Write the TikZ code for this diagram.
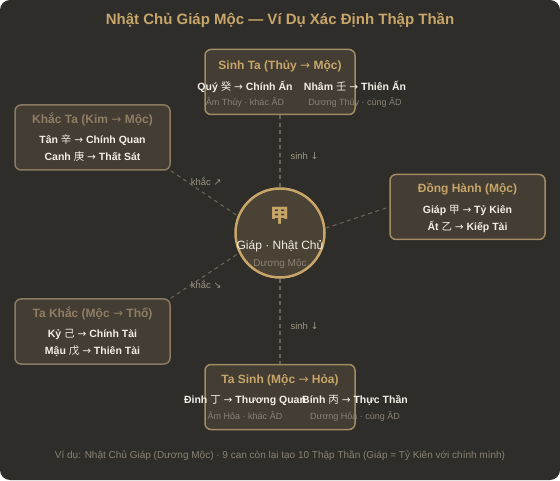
\documentclass[tikz,border=0pt]{standalone}
\usepackage{fontspec}
\setmainfont{Liberation Sans}
\newfontfamily\cjk{Noto Sans CJK SC}
\newfontfamily\arrowfont{DejaVu Sans}
\usepackage{xcolor}
\usetikzlibrary{positioning}
\definecolor{PanelBg}{HTML}{2E2D2A}
\definecolor{BoxFill}{HTML}{433D33}
\definecolor{BoxEdge}{HTML}{A38C63}
\definecolor{BoxEdgeDim}{HTML}{8A7A61}
\definecolor{Gold}{HTML}{C8A66A}
\definecolor{GoldDim}{HTML}{8F7E64}
\definecolor{Ink}{HTML}{F2EEE6}
\definecolor{Muted}{HTML}{8A8275}
\definecolor{LinkGray}{HTML}{6A6356}
\definecolor{LinkText}{HTML}{9C9384}
\definecolor{HubFill}{HTML}{4A4234}

\newcommand{\han}[1]{{\cjk\mdseries #1}}
\newcommand{\ra}{{\arrowfont\mdseries →}}

\begin{document}
\begin{tikzpicture}[x=1pt, y=1pt,
    box/.style={draw=BoxEdge, fill=BoxFill, rounded corners=6pt, line width=1.5pt,
                minimum width=150pt, minimum height=65pt, inner sep=0pt},
    dimbox/.style={box, draw=BoxEdgeDim, minimum width=155pt},
    hub/.style={circle, draw=Gold, fill=HubFill, line width=2.5pt,
                minimum size=89pt, inner sep=0pt},
    txt/.style={inner sep=0pt, text height=0.72em, text depth=0.22em},
    headline/.style={txt, text=Gold, font=\bfseries\fontsize{15}{17}\selectfont},
    boxtitle/.style={txt, text=Gold, font=\bfseries\fontsize{12}{14}\selectfont},
    dimtitle/.style={boxtitle, text=GoldDim},
    entry/.style={txt, text=Ink, font=\bfseries\fontsize{10.5}{12}\selectfont},
    subnote/.style={txt, text=Muted, font=\fontsize{9}{11}\selectfont},
    link/.style={draw=LinkGray, line width=1.1pt, dash pattern=on 4pt off 3.5pt},
    linklabel/.style={txt, text=LinkText, font=\fontsize{9.5}{11}\selectfont},
    footnote/.style={txt, text=Muted, font=\fontsize{10}{12}\selectfont}]
% panel
\useasboundingbox (0,0) rectangle (560,480);
\fill[PanelBg, rounded corners=10pt] (0,0) rectangle (560,480);
\node[headline] (title) at (280,458) {Nhật Chủ Giáp Mộc — Ví Dụ Xác Định Thập Thần};

% day master
\node[hub] (hub) at (280,247) {};
\node[txt, text=Gold, font=\bfseries\fontsize{19}{21}\selectfont, yshift=13pt] (jia) at (hub.center) {{\cjk\bfseries 甲}};
\node[txt, text=Ink, font=\fontsize{12}{14}\selectfont, yshift=-14pt] (hubname) at (hub.center) {Giáp · Nhật Chủ};
\node[txt, text=Muted, font=\fontsize{10}{12}\selectfont, yshift=-31pt] (hubnote) at (hub.center) {Dương Mộc};

% the five groups
\node[box, above=72pt of hub] (sinhta) {};
\node[box, below=85pt of hub] (tasinh) {};
\node[dimbox] (khacta) at (92.5,342.5) {};
\node[dimbox] (takhac) at (92.5,148.5) {};
\node[box, minimum width=155pt] (donghanh) at (467.5,273) {};

\node[boxtitle, yshift=-18pt] (sinhtaT) at (sinhta.north) {Sinh Ta (Thủy \ra{} Mộc)};
\node[entry, xshift=-35pt, yshift=-39pt] (quy) at (sinhta.north) {Quý \han{癸} \ra{} Chính Ấn};
\node[entry, xshift=75pt, yshift=-39pt] (nham) at (sinhta.north) {Nhâm \han{壬} \ra{} Thiên Ấn};
\node[subnote, xshift=-35pt, yshift=-54pt] (quyN) at (sinhta.north) {Âm Thủy · khác ÂD};
\node[subnote, xshift=75pt, yshift=-54pt] (nhamN) at (sinhta.north) {Dương Thủy · cùng ÂD};

\node[boxtitle, yshift=-17.5pt] (tasinhT) at (tasinh.north) {Ta Sinh (Mộc \ra{} Hỏa)};
\node[entry, xshift=-35pt, yshift=-37.5pt] (dinh) at (tasinh.north) {Đinh \han{丁} \ra{} Thương Quan};
\node[entry, xshift=75pt, yshift=-37.5pt] (binh) at (tasinh.north) {Bính \han{丙} \ra{} Thực Thần};
\node[subnote, xshift=-35pt, yshift=-53.5pt] (dinhN) at (tasinh.north) {Âm Hỏa · khác ÂD};
\node[subnote, xshift=75pt, yshift=-53.5pt] (binhN) at (tasinh.north) {Dương Hỏa · cùng ÂD};

\node[dimtitle, yshift=-16.5pt] (khactaT) at (khacta.north) {Khắc Ta (Kim \ra{} Mộc)};
\node[entry, yshift=-36.5pt] (tan) at (khacta.north) {Tân \han{辛} \ra{} Chính Quan};
\node[entry, yshift=-53.5pt] (canh) at (khacta.north) {Canh \han{庚} \ra{} Thất Sát};

\node[dimtitle, yshift=-17pt] (takhacT) at (takhac.north) {Ta Khắc (Mộc \ra{} Thổ)};
\node[entry, yshift=-37pt] (ky) at (takhac.north) {Kỷ \han{己} \ra{} Chính Tài};
\node[entry, yshift=-54pt] (mau) at (takhac.north) {Mậu \han{戊} \ra{} Thiên Tài};

\node[boxtitle, yshift=-16pt] (donghanhT) at (donghanh.north) {Đồng Hành (Mộc)};
\node[entry, yshift=-37pt] (giap) at (donghanh.north) {Giáp \han{甲} \ra{} Tỷ Kiên};
\node[entry, yshift=-54pt] (at) at (donghanh.north) {Ất \han{乙} \ra{} Kiếp Tài};

% links
\draw[link] (sinhta) -- (hub) node[linklabel, pos=.58, right=10pt] (sinh1) {sinh {\arrowfont↓}};
\draw[link] (hub) -- (tasinh) node[linklabel, pos=.57, right=10pt] (sinh2) {sinh {\arrowfont↓}};
\draw[link] (khacta.south east) -- (hub.158) node[linklabel, pos=.53, above=6pt] (khac1) {khắc {\arrowfont↗}};
\draw[link] (takhac.north east) -- (hub.206) node[linklabel, pos=.52, below=6pt] (khac2) {khắc {\arrowfont↘}};
\draw[link] (hub.6) -- (donghanh.west);

\node[footnote] (foot) at (280,24) {Ví dụ: Nhật Chủ Giáp (Dương Mộc) · 9 can còn lại tạo 10 Thập Thần (Giáp = Tỷ Kiên với chính mình)};
\end{tikzpicture}
\end{document}
